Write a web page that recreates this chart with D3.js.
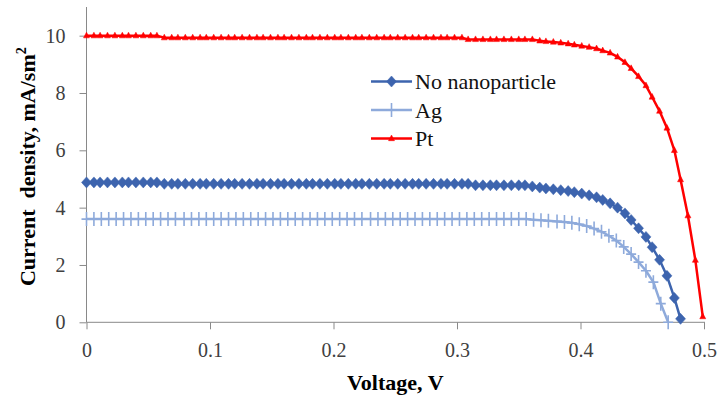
<!doctype html>
<html>

<head>
  <meta charset="UTF-8" />
  <title>Current density vs voltage</title>
  <style>
    html,
    body {
      margin: 0;
      background: #fff;
    }

    svg {
      font-family: "Liberation Serif", "Times New Roman", serif;
    }

    .axis path,
    .axis line {
      stroke: #898989;
      stroke-width: 1px;
    }

    .title {
      font-weight: bold;
      font-size: 22px;
      fill: #000;
    }

    .legend text {
      font-size: 22px;
      fill: #111;
    }
  </style>
</head>

<body>
  <script src="https://cdn.jsdelivr.net/npm/d3@7"></script>
  <script>
    // data
    const seriesNames = ['No nanoparticle', 'Ag', 'Pt'];

    // voltage grid used by the "No nanoparticle" and Pt curves
    const voltage = [
      0, .006, .011, .017, .023, .029, .034, .040, .046, .052,
      .057, .063, .069, .074, .080, .086, .092, .097, .103, .109,
      .115, .120, .126, .132, .138, .143, .149, .155, .160, .166,
      .172, .178, .183, .189, .195, .201, .206, .212, .218, .223,
      .229, .235, .241, .246, .252, .258, .264, .269, .275, .281,
      .287, .292, .298, .304, .309, .315, .321, .327, .332, .338,
      .344, .350, .355, .361, .367, .372, .378, .384, .390, .395,
      .401, .407, .413, .418, .424, .430, .436, .441, .447, .453,
      .458, .464, .470, .476, .481, .487, .493, .499
    ];

    const currentPt = [
      10, 10, 10, 10, 10, 10, 10, 10, 10, 10,
      10, 9.93, 9.93, 9.93, 9.93, 9.93, 9.93, 9.93, 9.93, 9.93,
      9.93, 9.93, 9.93, 9.93, 9.93, 9.93, 9.93, 9.93, 9.93, 9.93,
      9.93, 9.93, 9.93, 9.93, 9.93, 9.93, 9.93, 9.93, 9.93, 9.93,
      9.93, 9.93, 9.93, 9.93, 9.93, 9.93, 9.93, 9.93, 9.93, 9.93,
      9.93, 9.93, 9.93, 9.93, 9.87, 9.87, 9.87, 9.87, 9.87, 9.87,
      9.87, 9.87, 9.87, 9.87, 9.82, 9.80, 9.78, 9.75, 9.72, 9.68,
      9.64, 9.60, 9.55, 9.48, 9.40, 9.26, 9.07, 8.86, 8.58, 8.26,
      7.86, 7.37, 6.78, 6.00, 4.98, 3.72, 2.17, 0.20
    ];

    const currentNone = [
      4.88, 4.88, 4.88, 4.88, 4.88, 4.88, 4.88, 4.88, 4.88, 4.88,
      4.88, 4.83, 4.83, 4.83, 4.83, 4.83, 4.83, 4.83, 4.83, 4.83,
      4.83, 4.83, 4.83, 4.83, 4.83, 4.83, 4.83, 4.83, 4.83, 4.83,
      4.83, 4.83, 4.83, 4.83, 4.83, 4.83, 4.83, 4.83, 4.83, 4.83,
      4.83, 4.83, 4.83, 4.83, 4.83, 4.83, 4.83, 4.83, 4.83, 4.83,
      4.83, 4.83, 4.83, 4.83, 4.83, 4.78, 4.78, 4.78, 4.78, 4.78,
      4.78, 4.78, 4.78, 4.74, 4.70, 4.67, 4.64, 4.61, 4.58, 4.54,
      4.49, 4.43, 4.36, 4.27, 4.15, 4.00, 3.80, 3.57, 3.28, 2.98,
      2.62, 2.18, 1.62, 0.85, 0.12
    ];

    // Ag was sampled on its own grid
    const voltageAg = [
      0, .006, .012, .018, .024, .030, .036, .042, .048, .054,
      .060, .066, .072, .079, .085, .091, .097, .103, .109, .115,
      .121, .127, .133, .139, .145, .151, .157, .163, .169, .175,
      .181, .187, .193, .199, .205, .211, .217, .223, .230, .236,
      .242, .248, .254, .260, .266, .272, .278, .284, .290, .296,
      .302, .308, .314, .320, .326, .332, .338, .344, .350, .356,
      .362, .368, .374, .381, .387, .393, .399, .405, .411, .417,
      .423, .429, .435, .441, .447, .453, .459, .465, .471
    ];

    const currentAg = [
      3.60, 3.60, 3.60, 3.60, 3.60, 3.60, 3.60, 3.60, 3.60, 3.60,
      3.60, 3.60, 3.60, 3.60, 3.60, 3.60, 3.60, 3.60, 3.60, 3.60,
      3.60, 3.60, 3.60, 3.60, 3.60, 3.60, 3.60, 3.60, 3.60, 3.60,
      3.60, 3.60, 3.60, 3.60, 3.60, 3.60, 3.60, 3.60, 3.60, 3.60,
      3.60, 3.60, 3.60, 3.60, 3.60, 3.60, 3.60, 3.60, 3.60, 3.60,
      3.60, 3.60, 3.60, 3.60, 3.60, 3.60, 3.60, 3.60, 3.60, 3.60,
      3.58, 3.56, 3.54, 3.52, 3.50, 3.47, 3.42, 3.36, 3.27, 3.16,
      3.02, 2.85, 2.63, 2.38, 2.10, 1.80, 1.40, 0.65, 0
    ];

    const xTicks = [0, 0.1, 0.2, 0.3, 0.4, 0.5];
    const yTicks = [0, 2, 4, 6, 8, 10];

    // view
    const width = 717, height = 399;
    const margin = { left: 86.5, right: 13, top: 7, bottom: 76.7 };

    const x = d3.scaleLinear().domain([0, 0.5]).range([margin.left, width - margin.right]);
    const y = d3.scaleLinear().domain([0, 11]).range([height - margin.bottom, margin.top]);

    const svg = d3.select('body').append('svg')
      .attr('width', width)
      .attr('height', height);

    // d3's axis puts sans-serif 10px on the group; swap it for the serif look
    const styleAxis = g => {
      g.attr('font-family', null).attr('font-size', null);
      g.selectAll('text')
        .style('font-family', '"Liberation Serif", "Times New Roman", serif')
        .style('font-size', '20px')
        .attr('fill', '#404040');
    };

    svg.append('g')
      .attr('class', 'axis')
      .attr('transform', `translate(0,${y(0)})`)
      .call(d3.axisBottom(x).tickValues(xTicks).tickSize(7).tickPadding(13.5)
        .tickFormat(d => d === 0 ? '0' : d3.format('.1f')(d)))
      .call(styleAxis)
      .call(g => g.select('.domain').attr('d', `M${x(0)},0H${x(0.5) + 1}`));

    svg.append('g')
      .attr('class', 'axis')
      .attr('transform', `translate(${x(0)},0)`)
      .call(d3.axisLeft(y).tickValues(yTicks).tickSize(7).tickPadding(14))
      .call(styleAxis)
      .call(g => g.select('.domain').attr('d', `M0,${y(0)}V${y(11)}`));

    const line = d3.line().x(d => x(d[0])).y(d => y(d[1]));

    const diamond = 'M0,-5.5L5,0L0,5.5L-5,0Z';
    const plus = 'M0,-7V7M-5,0H5';
    const triangle = 'M0,-3.5L3,2.2L-3,2.2Z';

    const series = [
      { name: seriesNames[0], pts: d3.zip(voltage, currentNone), color: '#3d64ae', marker: diamond, filled: true },
      { name: seriesNames[1], pts: d3.zip(voltageAg, currentAg), color: '#8eaadb', marker: plus, filled: false },
      { name: seriesNames[2], pts: d3.zip(voltage, currentPt), color: '#ff0000', marker: triangle, filled: true }
    ];

    // draw Ag first, then No nanoparticle, then Pt on top
    [series[1], series[0], series[2]].forEach(s => {
      const g = svg.append('g');
      g.append('path')
        .attr('d', line(s.pts))
        .attr('fill', 'none')
        .attr('stroke', s.color)
        .attr('stroke-width', 2.5);
      g.selectAll('path.mk')
        .data(s.pts)
        .join('path')
        .attr('class', 'mk')
        .attr('transform', d => `translate(${x(d[0])},${y(d[1])})`)
        .attr('d', s.marker)
        .attr('fill', s.filled ? s.color : 'none')
        .attr('stroke', s.color)
        .attr('stroke-width', s.filled ? 0.5 : 1.6);
    });

    // legend
    const legend = svg.append('g').attr('class', 'legend');
    const rowY = [81.5, 110, 138.5];
    series.forEach((s, i) => {
      const row = legend.append('g').attr('transform', `translate(371,${rowY[i]})`);
      row.append('line')
        .attr('x1', 0).attr('x2', 41)
        .attr('stroke', s.color)
        .attr('stroke-width', 2.5);
      row.append('path')
        .attr('transform', 'translate(20.5,0)')
        .attr('d', s.marker)
        .attr('fill', s.filled ? s.color : 'none')
        .attr('stroke', s.color)
        .attr('stroke-width', s.filled ? 0.5 : 1.6);
      row.append('text')
        .attr('x', 44)
        .attr('dy', '0.35em')
        .text(s.name);
    });

    // axis titles
    svg.append('text')
      .attr('class', 'title')
      .attr('x', x(0.25))
      .attr('y', 390)
      .attr('text-anchor', 'middle')
      .text('Voltage, V');

    const yTitle = svg.append('text')
      .attr('class', 'title')
      .attr('transform', `translate(27,${(y(0) + y(11)) / 2 + 2}) rotate(-90)`)
      .attr('text-anchor', 'middle')
      .attr('dominant-baseline', 'central')
      .attr('xml:space', 'preserve');
    yTitle.append('tspan').text('Current  density, mA/sm');
    yTitle.append('tspan').attr('dy', '-0.45em').attr('font-size', '14px').text('2');
  </script>
</body>

</html>
